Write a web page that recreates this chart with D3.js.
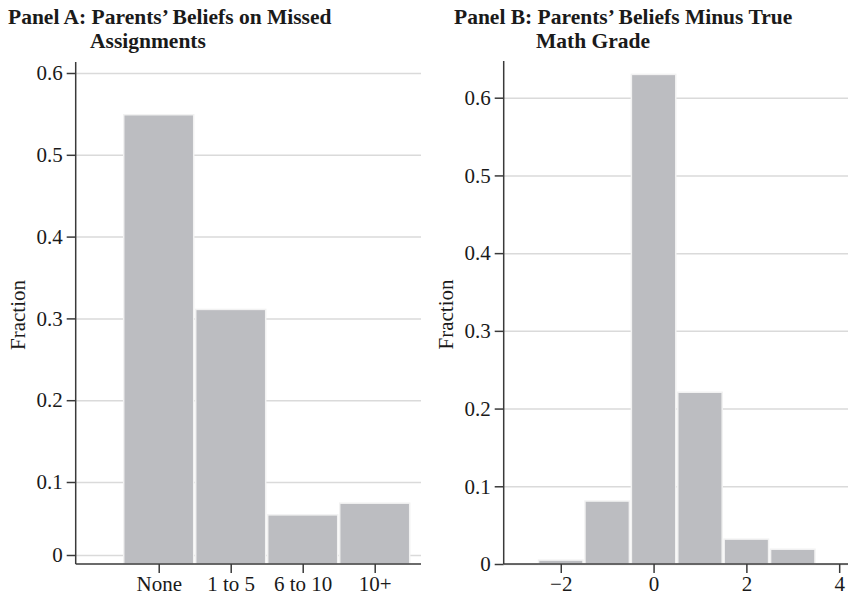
<!DOCTYPE html>
<html>
<head>
<meta charset="utf-8">
<script src="https://cdn.jsdelivr.net/npm/d3@7"></script>
<style>
  html, body { margin: 0; padding: 0; background: #fff; }
  svg text { font-family: "Liberation Serif", "Times New Roman", serif; fill: #1a1a1a; }
</style>
</head>
<body>
<div id="chart"></div>
<script>
// Panel A: parents' beliefs on missed assignments
const catsA = ['None', '1 to 5', '6 to 10', '10+'];
const fracA = [0.549, 0.311, 0.055, 0.071];
const yTicksA = [0, 0.1, 0.2, 0.3, 0.4, 0.5, 0.6];

// Panel B: beliefs minus true math grade
const binsB = [-2, -1, 0, 1, 2, 3];
const fracB = [0.005, 0.081, 0.630, 0.221, 0.032, 0.019];
const yTicksB = [0, 0.1, 0.2, 0.3, 0.4, 0.5, 0.6];
const xTicksB = [-2, 0, 2, 4];

const titlesA = ['Panel A: Parents\u2019 Beliefs on Missed', 'Assignments'];
const titlesB = ['Panel B: Parents\u2019 Beliefs Minus True', 'Math Grade'];

const W = 848, H = 596;
const BAR = '#bcbdc1', BAR_EDGE = '#f2f2f2', GRID = '#dadada', AXIS = '#3a3a3a';
const fmtY = d => d === 0 ? '0' : d3.format('.1f')(d);

const svg = d3.select('#chart').append('svg').attr('width', W).attr('height', H);

function panel(o) {
  const g = svg.append('g');

  // gridlines
  g.append('g')
    .attr('transform', `translate(${o.left},0)`)
    .call(d3.axisLeft(o.y).tickValues(o.yTicks).tickSize(-(o.right - o.left)).tickFormat(''))
    .call(s => s.select('.domain').remove())
    .call(s => s.selectAll('line').attr('stroke', GRID).attr('stroke-width', 1.5));

  // bars
  g.selectAll('rect.bar').data(o.values).join('rect')
    .attr('class', 'bar')
    .attr('x', (d, i) => o.x(o.pos[i] - 0.5) + 1)
    .attr('width', (d, i) => o.x(o.pos[i] + 0.5) - o.x(o.pos[i] - 0.5) - 2)
    .attr('y', d => o.y(d))
    .attr('height', d => o.bottom - o.y(d))
    .attr('fill', BAR)
    .attr('stroke', BAR_EDGE)
    .attr('stroke-width', 1.5);

  // y axis
  g.append('g')
    .attr('transform', `translate(${o.left},0)`)
    .call(d3.axisLeft(o.y).tickValues(o.yTicks).tickSize(9).tickPadding(4).tickFormat(fmtY))
    .call(s => s.select('.domain').remove())
    .call(s => s.selectAll('line').attr('stroke', AXIS).attr('stroke-width', 1.5))
    .call(s => s.selectAll('text').attr('font-size', 21).attr('fill', '#1a1a1a'));
  g.append('line')
    .attr('x1', o.left).attr('x2', o.left).attr('y1', o.top).attr('y2', o.bottom)
    .attr('stroke', AXIS).attr('stroke-width', 1.5);

  // x axis
  g.append('g')
    .attr('transform', `translate(0,${o.bottom})`)
    .call(d3.axisBottom(o.x).tickValues(o.xTicks).tickSize(9).tickPadding(3).tickFormat(o.xFmt))
    .call(s => s.select('.domain').remove())
    .call(s => s.selectAll('line').attr('stroke', AXIS).attr('stroke-width', 1.5))
    .call(s => s.selectAll('text').attr('font-size', 21).attr('fill', '#1a1a1a'));
  g.append('line')
    .attr('x1', o.left).attr('x2', o.right).attr('y1', o.bottom).attr('y2', o.bottom)
    .attr('stroke', AXIS).attr('stroke-width', 1.5);

  // axis title
  g.append('text')
    .attr('transform', `translate(${o.left - 51},${(o.top + o.bottom) / 2 + 2}) rotate(-90)`)
    .attr('text-anchor', 'middle')
    .attr('font-size', 21)
    .text('Fraction');

  // panel title (two lines)
  g.append('text').attr('x', o.tx1).attr('y', 24).attr('font-size', 21.5).attr('font-weight', 'bold').text(o.titles[0]);
  g.append('text').attr('x', o.tx2).attr('y', 48).attr('font-size', 21.5).attr('font-weight', 'bold').text(o.titles[1]);
}

// Panel A (the 0 tick sits a little above the baseline in the original)
const xA = d3.scaleLinear().domain([-1.153, 3.643]).range([75.7, 421]);
const yA = d3.scaleLinear().domain([0, 0.1, 0.6]).range([555, 482, 73]);
panel({
  x: xA, y: yA, left: 75.7, right: 421, top: 62, bottom: 564,
  values: fracA, pos: catsA.map((c, i) => i),
  yTicks: yTicksA, xTicks: catsA.map((c, i) => i), xFmt: i => catsA[i],
  titles: titlesA, tx1: 8, tx2: 90
});

// Panel B
const xB = d3.scaleLinear().domain([-3.23, 4.19]).range([503.7, 848]);
const yB = d3.scaleLinear().domain([0, 0.6]).range([564, 97.7]);
panel({
  x: xB, y: yB, left: 503.7, right: 848, top: 61, bottom: 564,
  values: fracB, pos: binsB,
  yTicks: yTicksB, xTicks: xTicksB, xFmt: d3.format('d'),
  titles: titlesB, tx1: 454, tx2: 536
});
</script>
</body>
</html>
